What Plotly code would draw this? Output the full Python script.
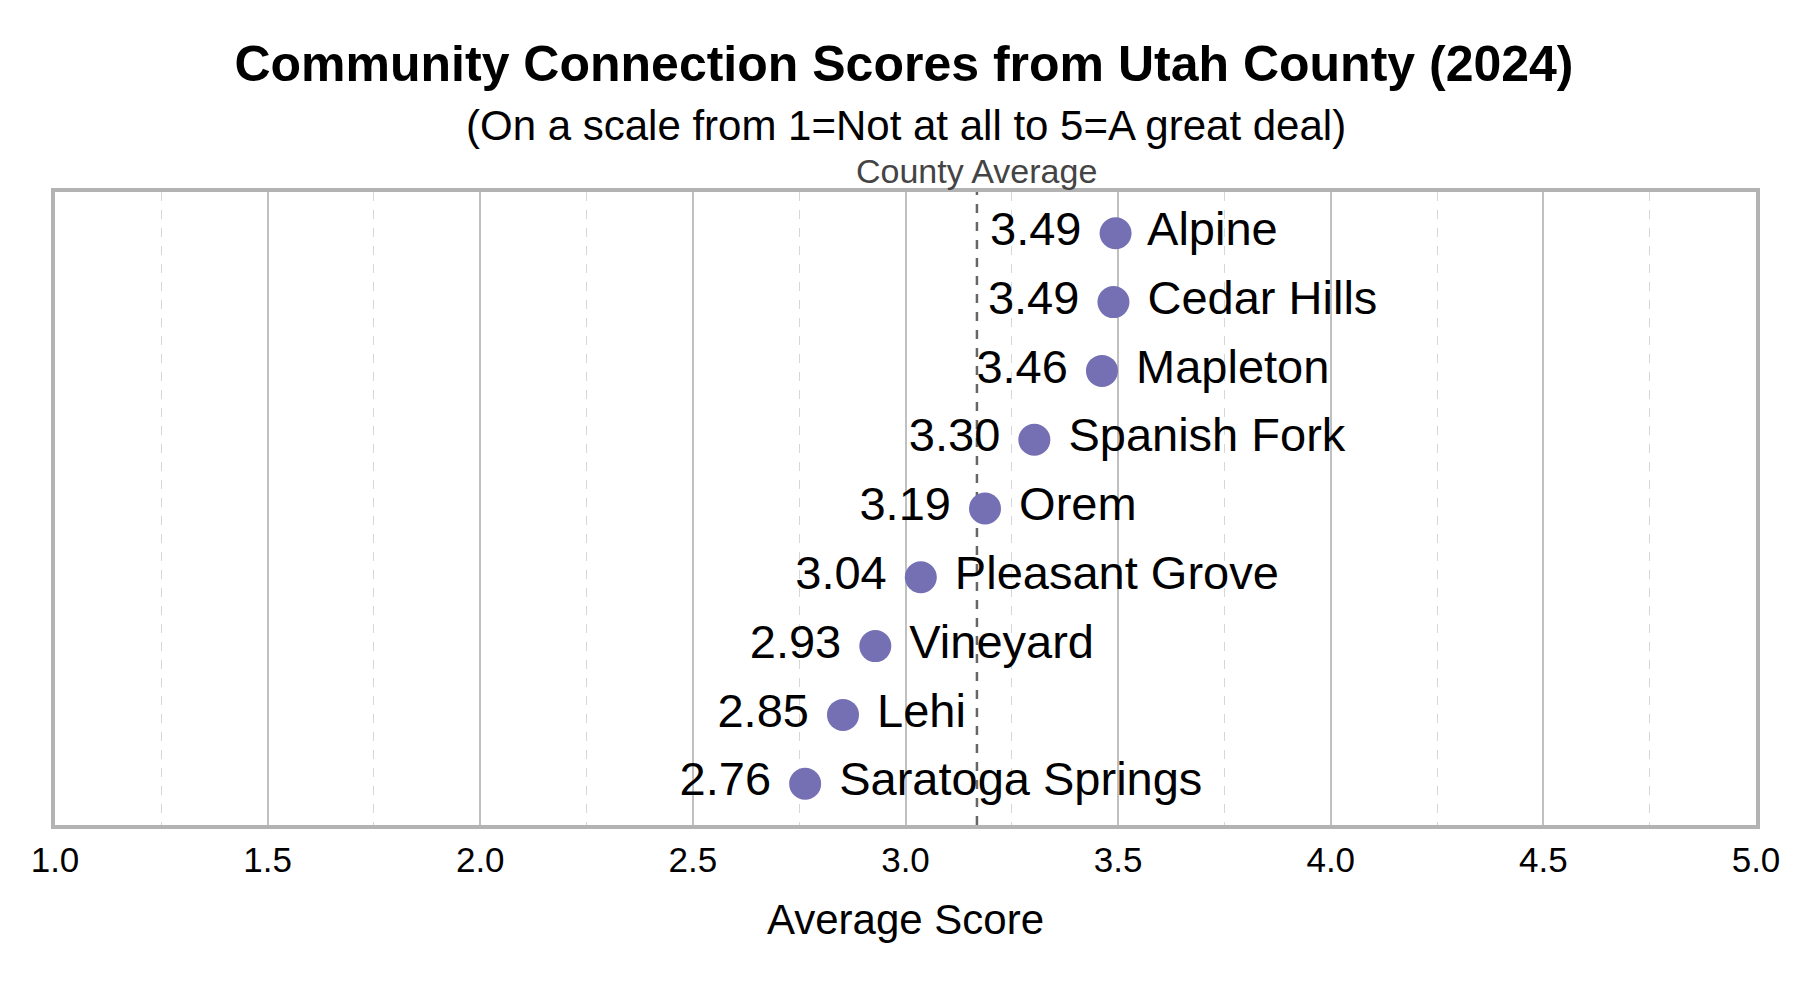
import plotly.graph_objects as go

# Community connection scores by city (Utah County, 2024)
cities = [
    "Alpine",
    "Cedar Hills",
    "Mapleton",
    "Spanish Fork",
    "Orem",
    "Pleasant Grove",
    "Vineyard",
    "Lehi",
    "Saratoga Springs",
]
scores = [3.494, 3.489, 3.462, 3.303, 3.187, 3.036, 2.929, 2.853, 2.764]
county_average = 3.168
x_ticks = [1.0, 1.5, 2.0, 2.5, 3.0, 3.5, 4.0, 4.5, 5.0]

FONT = "Liberation Sans, Arial, sans-serif"
DOT = "#7570b3"
FRAME = "#b3b3b3"

fig = go.Figure()

# dots with the score on the left
fig.add_trace(
    go.Scatter(
        x=scores,
        y=cities,
        mode="markers+text",
        marker={"size": 32, "color": DOT},
        text=[f"{s:.2f} " for s in scores],
        textposition="middle left",
        textfont={"size": 47, "color": "black", "family": FONT},
        cliponaxis=False,
        hoverinfo="skip",
        showlegend=False,
    )
)
# city names on the right
fig.add_trace(
    go.Scatter(
        x=scores,
        y=cities,
        mode="markers+text",
        marker={"size": 32, "color": "rgba(0,0,0,0)"},
        text=[f" {c}" for c in cities],
        textposition="middle right",
        textfont={"size": 47, "color": "black", "family": FONT},
        cliponaxis=False,
        hoverinfo="skip",
        showlegend=False,
    )
)

# county average reference line
fig.add_shape(
    type="line",
    x0=county_average,
    x1=county_average,
    xref="x",
    y0=0,
    y1=1,
    yref="paper",
    line={"color": "#666666", "width": 2.5, "dash": "dash"},
    layer="below",
)
fig.add_annotation(
    x=county_average,
    y=1,
    xref="x",
    yref="paper",
    yanchor="bottom",
    yshift=0,
    text="County Average",
    showarrow=False,
    font={"size": 34, "color": "#444444", "family": FONT},
)
fig.add_annotation(
    x=0.5,
    y=1.105,
    xref="paper",
    yref="paper",
    yanchor="middle",
    text="(On a scale from 1=Not at all to 5=A great deal)",
    showarrow=False,
    font={"size": 42, "color": "black", "family": FONT},
)

# page body keeps an 8px margin, so the figure is 8px smaller each way
fig.update_layout(
    width=1792,
    height=977,
    margin={"l": 47, "r": 44, "t": 184, "b": 160},
    paper_bgcolor="white",
    plot_bgcolor="white",
    font={"family": FONT, "color": "black"},
    title={
        "text": "<b>Community Connection Scores from Utah County (2024)</b>",
        "x": 0.5,
        "xanchor": "center",
        "y": 1 - 55 / 977,
        "yanchor": "middle",
        "font": {"size": 50, "color": "black", "family": FONT},
    },
    xaxis={
        "range": [1, 5],
        "tickvals": x_ticks,
        "ticktext": [f"{t:.1f}" for t in x_ticks],
        "tickfont": {"size": 35, "color": "black"},
        "ticks": "",
        "ticklabelstandoff": 1,
        "showgrid": True,
        "gridcolor": "#c0c0c0",
        "gridwidth": 1.5,
        "minor": {
            "dtick": 0.25,
            "tick0": 1,
            "showgrid": True,
            "gridcolor": "#d6d6d6",
            "gridwidth": 1,
            "griddash": "dash",
        },
        "showline": True,
        "linecolor": FRAME,
        "linewidth": 4,
        "mirror": True,
        "zeroline": False,
        "title": {"text": "Average Score", "font": {"size": 42}, "standoff": 28},
        "fixedrange": True,
    },
    yaxis={
        "range": [8.6, -0.6],
        "showticklabels": False,
        "ticks": "",
        "showgrid": False,
        "showline": True,
        "linecolor": FRAME,
        "linewidth": 4,
        "mirror": True,
        "zeroline": False,
        "fixedrange": True,
    },
)

fig.write_html("out.html")
